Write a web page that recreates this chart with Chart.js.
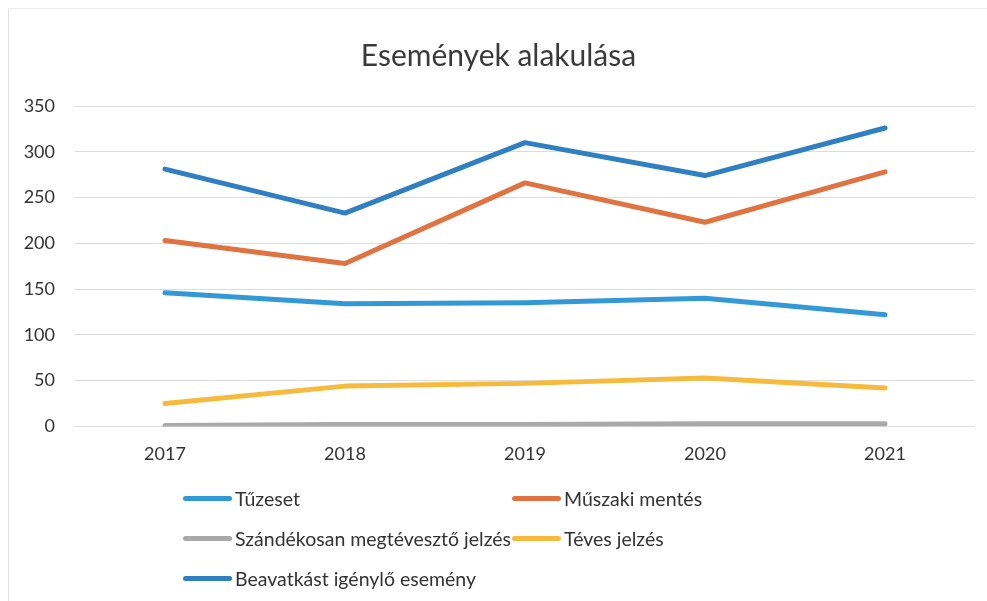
<!DOCTYPE html>
<html>
<head>
<meta charset="utf-8">
<script src="https://cdn.jsdelivr.net/npm/chart.js@4"></script>
<style>
  html, body { margin: 0; padding: 0; background: #fff; }
  #wrap { position: relative; width: 987px; height: 601px; }
  #frame { position: absolute; left: 8px; top: 8px; right: 0; bottom: 0; border-left: 1px solid #e2e2e2; border-top: 1px solid #ececec; }
  #legend { position: absolute; left: 183px; top: 486px; font-family: Lato, sans-serif; font-size: 19.5px; color: #333;
            display: grid; grid-template-columns: 329px 260px; row-gap: 16px; }
  .item { display: flex; align-items: center; height: 24px; white-space: nowrap; }
  .swatch { width: 49px; height: 5px; border-radius: 3px; margin-right: 3px; }
</style>
</head>
<body>
<div id="wrap">
  <div id="frame"></div>
  <canvas id="chart" width="987" height="601"></canvas>
  <div id="legend"></div>
</div>
<script>
const years = ['2017', '2018', '2019', '2020', '2021'];
const tuzeset = [146, 134, 135, 140, 122];
const muszaki = [203, 178, 266, 223, 278];
const szandekos = [1, 2, 2, 3, 3];
const teves = [25, 44, 47, 53, 42];
const beavatkas = [281, 233, 310, 274, 326];

const seriesNames = ['Tűzeset', 'Műszaki mentés', 'Szándékosan megtévesztő jelzés', 'Téves jelzés', 'Beavatkást igénylő esemény'];
const seriesValues = [tuzeset, muszaki, szandekos, teves, beavatkas];
const seriesColors = ['#3399d6', '#df7341', '#a9a9a9', '#f6bb3c', '#2f7fc1'];

const data = {
    labels: years,
    datasets: seriesNames.map((name, i) => ({
        label: name,
        data: seriesValues[i],
        borderColor: seriesColors[i],
        backgroundColor: seriesColors[i],
        borderWidth: 5,
        pointRadius: 0,
        tension: 0,
        borderCapStyle: 'round',
        borderJoinStyle: 'round'
    }))
};

const config = {
    type: 'line',
    data: data,
    options: {
        responsive: false,
        animation: false,
        layout: { padding: { top: 38, left: 22, right: 12, bottom: 119 } },
        plugins: {
            legend: { display: false },
            tooltip: { enabled: false },
            title: {
                display: true,
                text: 'Események alakulása',
                color: '#3a3a3a',
                font: { family: 'Lato', size: 30, weight: 'normal' },
                padding: { top: 0, bottom: 32 }
            }
        },
        scales: {
            x: {
                offset: true,
                grid: { display: false, drawTicks: false },
                border: { display: false },
                ticks: { color: '#333', font: { family: 'Lato', size: 18 }, padding: 17 }
            },
            y: {
                min: 0,
                max: 350,
                afterFit: (scale) => { scale.width = 53; },
                ticks: { stepSize: 50, color: '#333', font: { family: 'Lato', size: 18 }, padding: 20 },
                grid: { color: '#dcdcdc', lineWidth: 1, drawTicks: false },
                border: { display: false }
            }
        }
    }
};

const ctx = document.getElementById('chart').getContext('2d');
new Chart(ctx, config);

const legend = document.getElementById('legend');
seriesNames.forEach((name, i) => {
    const item = document.createElement('div');
    item.className = 'item';
    const sw = document.createElement('span');
    sw.className = 'swatch';
    sw.style.background = seriesColors[i];
    const txt = document.createElement('span');
    txt.textContent = name;
    item.appendChild(sw);
    item.appendChild(txt);
    legend.appendChild(item);
});
</script>
</body>
</html>
